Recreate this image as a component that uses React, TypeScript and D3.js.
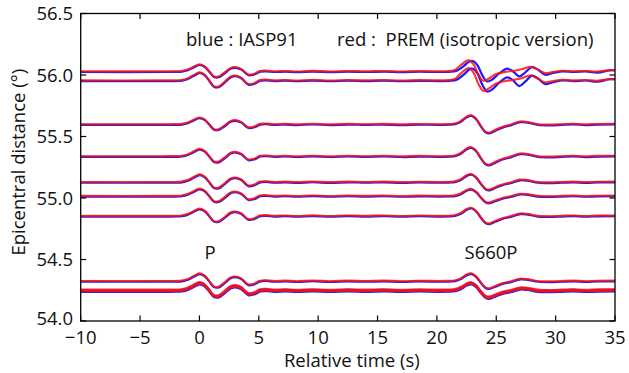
import React from "react";
import * as d3 from "d3";

// ---- data ----
const xTicks = [-10, -5, 0, 5, 10, 15, 20, 25, 30, 35];
const yTicks = [54.0, 54.5, 55.0, 55.5, 56.0, 56.5];

// epicentral distance of each trace (deg)
const distances = [56.03, 55.956, 55.6, 55.34, 55.13, 55.017, 54.855, 54.325, 54.255, 54.243];
// peak amplitude of the P wavelet (deg on the y scale)
const pAmps = [0.057, 0.066, 0.055, 0.059, 0.062, 0.059, 0.059, 0.062, 0.062, 0.06];
// peak amplitude of the S660P wavelet
const sAmps = [0.09, 0.1, 0.073, 0.073, 0.065, 0.057, 0.065, 0.062, 0.06, 0.06];
// which S660P shape each trace uses
const sShapes = ["top", "top", "main", "main", "main", "main", "main", "main", "main", "main"];

// normalized P wavelet (time s, amplitude)
const pWave: [number, number][] = [
  [-10, 0], [-3, 0], [-2, 0.01], [-1.5, 0.05], [-1, 0.25], [-0.5, 0.65], [0, 1], [0.4, 0.75],
  [0.8, 0.05], [1.2, -0.7], [1.6, -0.75], [2.1, -0.2], [2.6, 0.45], [3.0, 0.6], [3.5, 0.35],
  [4.1, -0.45], [4.6, -0.35], [5.1, 0.05], [5.6, 0.1], [6.3, 0], [7.2, 0.05], [8.2, -0.02],
  [9.5, 0.06], [11, -0.02], [12.5, 0.05], [14, 0], [15.5, 0.05], [17, -0.02], [18.5, 0.04], [20, 0],
];

// normalized S660P wavelet, common shape
const sWaveMain: [number, number][] = [
  [20, 0], [21, 0.02], [21.5, 0.08], [22, 0.35], [22.5, 0.85], [22.9, 1], [23.3, 0.6], [23.7, -0.2],
  [24.1, -0.85], [24.4, -0.95], [24.9, -0.65], [25.5, -0.3], [26.2, -0.05], [27, 0.3], [27.6, 0.25],
  [28.5, 0], [29.5, -0.05], [30.5, 0], [31.5, 0.05], [32.5, -0.02], [33.5, 0.03], [35, 0.05],
];

// S660P of the two farthest traces: IASP91 (blue) and PREM (red) differ
const sWaveTopBlue: [number, number][] = [
  [20, 0], [21, 0.02], [21.6, 0.1], [22.2, 0.5], [22.7, 0.95], [23, 1], [23.4, 0.6], [23.8, -0.3],
  [24.2, -0.85], [24.6, -0.7], [25.2, -0.15], [25.9, 0.3], [26.4, 0.05], [26.9, -0.4], [27.4, -0.05],
  [28, 0.45], [28.5, 0.2], [29.1, -0.25], [29.7, -0.1], [30.5, 0.05], [31.5, 0], [32.5, 0.05],
  [33.5, -0.05], [34.5, 0.15], [35, 0.15],
];
const sWaveTopRed: [number, number][] = [
  [20, 0], [21, 0.02], [21.5, 0.12], [22, 0.55], [22.5, 0.95], [22.7, 1], [23.1, 0.6], [23.5, -0.3],
  [23.9, -0.85], [24.3, -0.7], [25, -0.25], [25.8, -0.05], [26.5, 0.05], [27.2, 0.2], [27.9, 0.4],
  [28.5, 0.15], [29.1, -0.15], [29.8, -0.05], [30.5, 0.05], [31.5, 0], [32.5, 0.03], [33.5, -0.03],
  [34.5, 0.1], [35, 0.1],
];

const W = 629;
const H = 373;
const left = 80.7;
const right = 615;
const top = 13.5;
const bottom = 321;
const FONT = "'Open Sans', 'Noto Sans', sans-serif";
const FS = 18.5;

export default function App() {
  const x = d3.scaleLinear().domain([-10, 35]).range([left, right]);
  const y = d3.scaleLinear().domain([54.0, 56.5]).range([bottom, top]);
  const line = d3
    .line<[number, number]>()
    .x((d) => x(d[0]))
    .y((d) => y(d[1]))
    .curve(d3.curveCatmullRom.alpha(0.5));

  const build = (i: number, model: "blue" | "red"): [number, number][] => {
    const d0 = distances[i];
    const sw =
      sShapes[i] === "top" ? (model === "blue" ? sWaveTopBlue : sWaveTopRed) : sWaveMain;
    const pts: [number, number][] = [];
    pWave.forEach(([t, v]) => {
      if (t < 20) pts.push([t, d0 + pAmps[i] * v]);
    });
    sw.forEach(([t, v]) => pts.push([t, d0 + sAmps[i] * v]));
    return pts;
  };

  const tickLen = 5.5;

  return (
    <div style={{ position: "fixed", left: 0, top: 0 }}>
      <svg width={W} height={H} style={{ display: "block", background: "#fff" }}>
        <defs>
          <clipPath id="plotclip">
            <rect x={left} y={top} width={right - left} height={bottom - top} />
          </clipPath>
        </defs>
        <g clipPath="url(#plotclip)">
          <g transform="translate(0.3,0.7)">
            {distances.map((_, i) => (
              <path
                key={"b" + i}
                d={line(build(i, "blue")) || ""}
                fill="none"
                stroke="#1a1aff"
                strokeWidth={2.2}
              />
            ))}
          </g>
          {distances.map((_, i) => (
            <path
              key={"r" + i}
              d={line(build(i, "red")) || ""}
              fill="none"
              stroke="#ff1010"
              strokeOpacity={0.85}
              strokeWidth={2.1}
            />
          ))}
        </g>
        {/* frame */}
        <rect x={left} y={top} width={right - left} height={bottom - top} fill="none" stroke="#000" strokeWidth={1.3} />
        {/* x ticks */}
        {xTicks.map((t) => (
          <g key={"x" + t}>
            <line x1={x(t)} x2={x(t)} y1={bottom} y2={bottom - tickLen} stroke="#000" strokeWidth={1.2} />
            <line x1={x(t)} x2={x(t)} y1={top} y2={top + tickLen} stroke="#000" strokeWidth={1.2} />
            <text x={x(t)} y={344} textAnchor="middle" fontFamily={FONT} fontSize={FS} fill="#111">
              {t < 0 ? "\u2212" + Math.abs(t) : String(t)}
            </text>
          </g>
        ))}
        {/* y ticks */}
        {yTicks.map((t) => (
          <g key={"y" + t}>
            <line x1={left} x2={left + tickLen} y1={y(t)} y2={y(t)} stroke="#000" strokeWidth={1.2} />
            <line x1={right} x2={right - tickLen} y1={y(t)} y2={y(t)} stroke="#000" strokeWidth={1.2} />
            <text x={73} y={y(t) + (t === 54 ? 4 : 6.5)} textAnchor="end" fontFamily={FONT} fontSize={FS} fill="#111">
              {t.toFixed(1)}
            </text>
          </g>
        ))}
        <text x={(left + right) / 2 + 4} y={367} textAnchor="middle" fontFamily={FONT} fontSize={FS} fill="#111">
          Relative time (s)
        </text>
        <text
          transform={`translate(25,${(top + bottom) / 2 - 5}) rotate(-90)`}
          textAnchor="middle"
          fontFamily={FONT}
          fontSize={FS}
          fill="#111"
        >
          Epicentral distance (°)
        </text>
        <text x={186} y={46} fontFamily={FONT} fontSize={FS} fill="#111">
          blue : IASP91
        </text>
        <text x={337} y={46} fontFamily={FONT} fontSize={FS} fill="#111" xmlSpace="preserve">
          {"red :  PREM (isotropic version)"}
        </text>
        <text x={x(0.9)} y={259} textAnchor="middle" fontFamily={FONT} fontSize={FS} fill="#111">
          P
        </text>
        <text x={491} y={259} textAnchor="middle" fontFamily={FONT} fontSize={FS} fill="#111">
          S660P
        </text>
      </svg>
    </div>
  );
}
